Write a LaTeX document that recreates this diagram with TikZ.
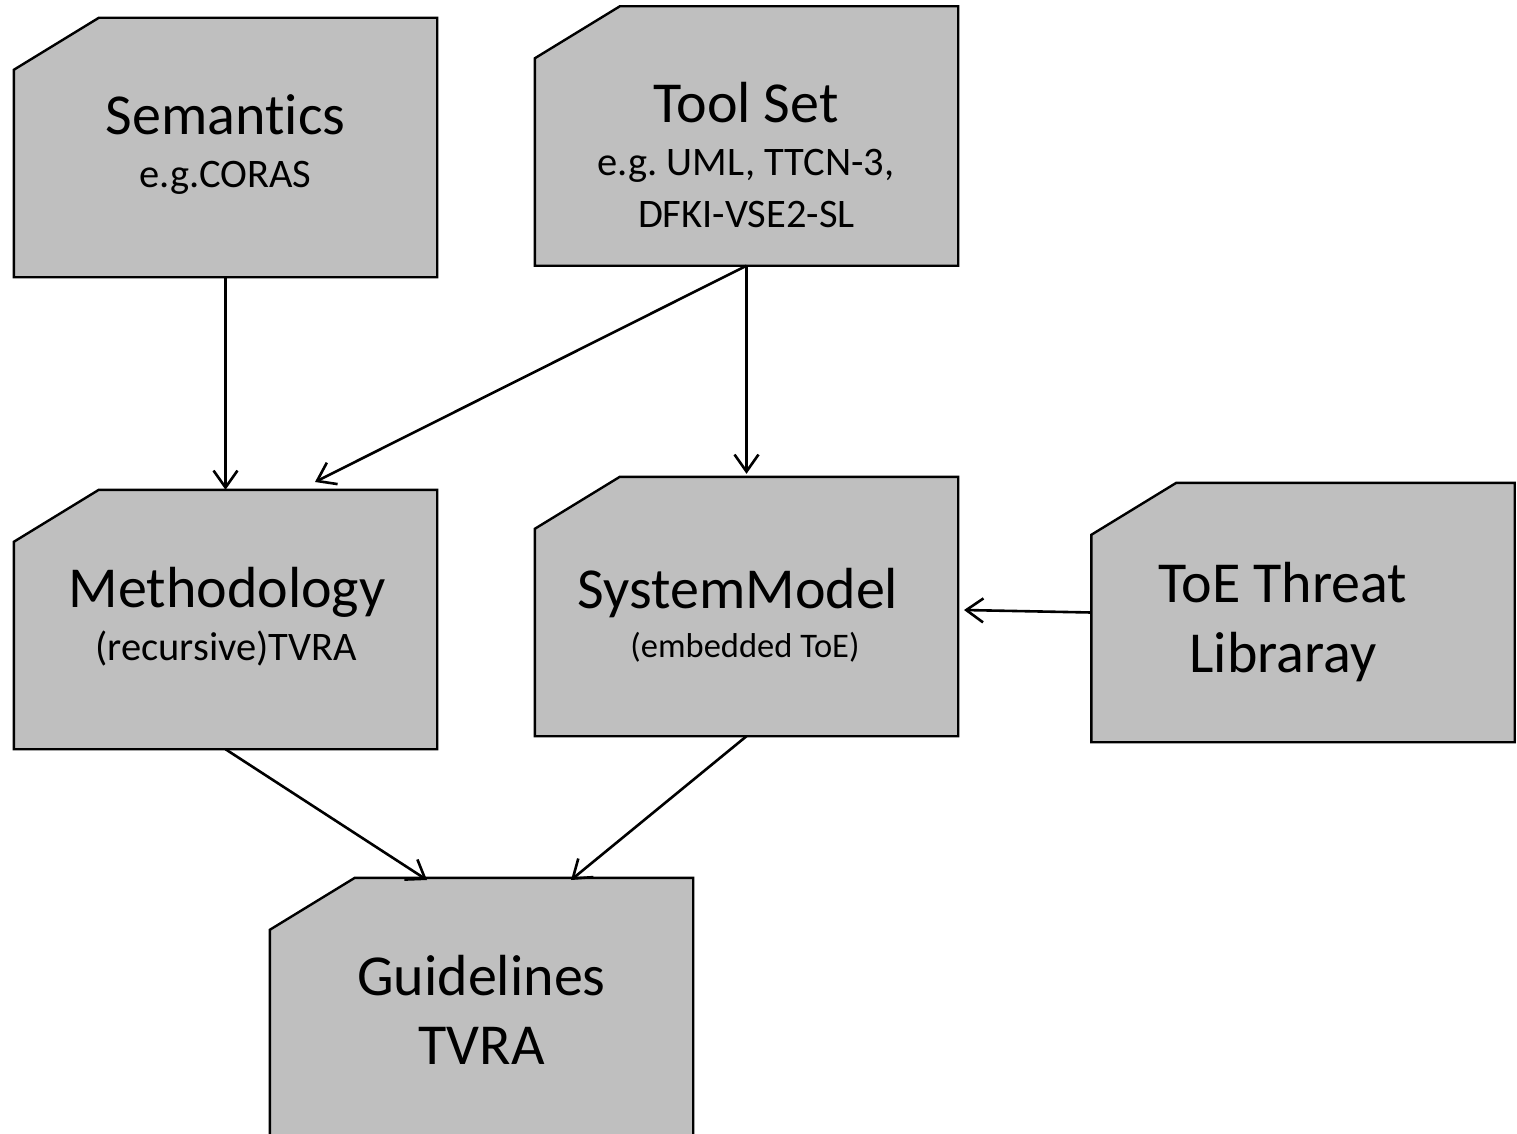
\documentclass[tikz,border=0pt]{standalone}
\usepackage{fontspec}
\setmainfont{Carlito}[Ligatures=NoCommon]
\usetikzlibrary{arrows.meta,calc}

\definecolor{cardfill}{RGB}{191,191,191}

\tikzset{
  card/.style={rectangle, minimum width=423pt, minimum height=259pt, inner sep=0pt},
  cardline/.style={draw=black, line width=2.4pt, fill=cardfill, line join=miter},
  title/.style={anchor=base, inner sep=0pt, font=\fontsize{58}{70}\selectfont},
  sub/.style={anchor=base, inner sep=0pt, font=\fontsize{40.5}{50}\selectfont},
  smallsub/.style={anchor=base, inner sep=0pt, font=\fontsize{34.5}{42}\selectfont},
  link/.style={draw=black, line width=2.6pt,
    -{Straight Barb[length=17pt,width=24pt,line width=2.6pt]}},
}

\begin{document}
\frenchspacing
\begin{tikzpicture}[x=1pt, y=-1pt]
  \clip (0,0) rectangle (1517,1134);
  \fill[white] (0,0) rectangle (1517,1134);

  % card frames
  \node[card] (sem)   at (225.5,147.5) {};
  \node[card] (tool)  at (746.5,136)   {};
  \node[card] (meth)  at (225.5,619.5) {};
  \node[card] (sys)   at (746.5,606.5) {};
  \node[card] (toe)   at (1303,612.5)  {};
  \node[card] (guide) at (481.5,1007.5) {};

  % cards with the clipped upper-left corner
  \foreach \n in {sem,tool,meth,sys,toe,guide}
    \path[cardline] ($(\n.north west)+(0,52)$) -- ($(\n.north west)+(85,0)$)
      -- (\n.north east) -- (\n.south east) -- (\n.south west) -- cycle;

  % card texts
  \node[title] (semT)  at (225.5,135) {Semantics};
  \node[sub]   (semS)  at (225.5,188) {e.g.CORAS};

  \node[title] (toolT)  at (746,123) {Tool Set};
  \node[sub]   (toolS1) at (746,176) {e.g. UML, TTCN-3,};
  \node[sub]   (toolS2) at (746.5,227) {DFKI-VSE2-SL};

  \node[title] (methT) at (227,607) {Methodology};
  \node[sub]   (methS) at (226,660) {(recursive)TVRA};

  \node[title]    (sysT) at (738,608) {SystemModel};
  \node[smallsub] (sysS) at (745,657) {(embedded ToE)};

  \node[title] (toeT1) at (1283,602) {ToE Threat};
  \node[title] (toeT2) at (1283,672) {Libraray};

  \node[title] (guideT1) at (481.5,995)  {Guidelines};
  \node[title] (guideT2) at (481.5,1064) {TVRA};

  % arrow entry points on the receiving cards
  \coordinate (methIn)   at (315,482);
  \coordinate (sysIn)    at (964,610);
  \coordinate (guideInL) at (427,880);
  \coordinate (guideInR) at (571,880);

  % connectors
  \draw[link] (sem.south) -- (meth.north);
  \draw[link] (tool.south) -- (methIn);
  \draw[link, shorten >=3pt] (tool.south) -- (sys.north);
  \draw[link] (toe.west) -- (sysIn);
  \draw[link] (meth.south) -- (guideInL);
  \draw[link] (sys.south) -- (guideInR);
\end{tikzpicture}
\end{document}
